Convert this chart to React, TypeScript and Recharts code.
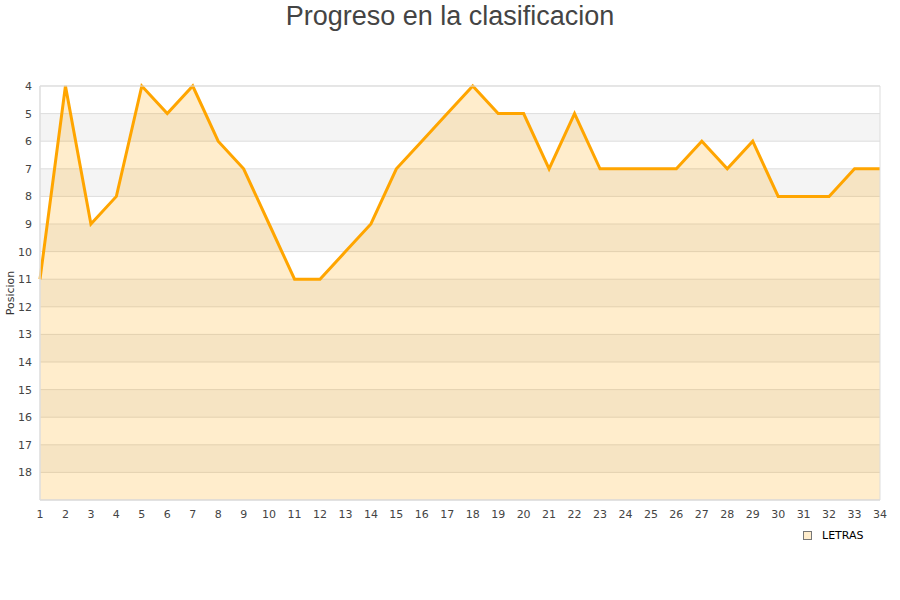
import React from 'react';
import { AreaChart, Area, XAxis, YAxis, CartesianGrid, ReferenceArea } from 'recharts';

const jornadas = [1, 2, 3, 4, 5, 6, 7, 8, 9, 10, 11, 12, 13, 14, 15, 16, 17, 18, 19, 20, 21, 22, 23, 24, 25, 26, 27, 28, 29, 30, 31, 32, 33, 34];
const posiciones = [11, 4, 9, 8, 4, 5, 4, 6, 7, 9, 11, 11, 10, 9, 7, 6, 5, 4, 5, 5, 7, 5, 7, 7, 7, 7, 6, 7, 6, 8, 8, 8, 7, 7];
const yTicks = [4, 5, 6, 7, 8, 9, 10, 11, 12, 13, 14, 15, 16, 17, 18];

const data = jornadas.map((j, i) => ({ jornada: j, pos: posiciones[i] }));

const tickStyle = { fontFamily: 'DejaVu Sans', fontSize: 11, fill: '#444' };

export default function App() {
  return (
    <div style={{ position: 'absolute', left: 0, top: 0, width: 900, height: 600, background: '#fff' }}>
      <div
        style={{
          position: 'absolute',
          left: 0,
          top: 0,
          width: 900,
          textAlign: 'center',
          fontFamily: 'Liberation Sans',
          fontSize: 27,
          lineHeight: '32px',
          color: '#444',
        }}
      >
        Progreso en la clasificacion
      </div>
      <AreaChart width={900} height={600} data={data} margin={{ top: 86, right: 20, left: 0, bottom: 70 }}>
        <CartesianGrid vertical={false} stroke="#dddddd" horizontalFill={['#ffffff', '#f4f4f4']} />
        <XAxis
          dataKey="jornada"
          type="number"
          domain={[1, 34]}
          ticks={jornadas}
          interval={0}
          height={30}
          tickLine={false}
          tickMargin={4}
          axisLine={{ stroke: '#dddddd' }}
          tick={tickStyle}
        />
        <YAxis
          type="number"
          domain={[4, 19]}
          reversed
          ticks={yTicks}
          interval={0}
          width={40}
          tickLine={false}
          axisLine={{ stroke: '#dddddd' }}
          tick={tickStyle}
          label={{
            value: 'Posicion',
            angle: -90,
            position: 'insideLeft',
            offset: 10,
            style: { fontFamily: 'DejaVu Sans', fontSize: 11, fill: '#333', textAnchor: 'middle' },
          }}
        />
        <Area
          type="linear"
          dataKey="pos"
          baseValue={19}
          stroke="#ffa500"
          strokeWidth={3}
          fill="#ffa500"
          fillOpacity={0.2}
          dot={false}
          activeDot={false}
          isAnimationActive={false}
        />
        <ReferenceArea x1={1} x2={34} y1={4} y2={19} fill="none" stroke="#dddddd" strokeOpacity={1} />
      </AreaChart>
      <div
        style={{
          position: 'absolute',
          left: 803,
          top: 529,
          display: 'flex',
          alignItems: 'center',
          fontFamily: 'DejaVu Sans',
          fontSize: 11,
          color: '#000',
        }}
      >
        <span
          style={{
            display: 'inline-block',
            width: 7,
            height: 7,
            background: '#ffedcc',
            border: '1px solid #777',
            marginRight: 10,
          }}
        />
        LETRAS
      </div>
    </div>
  );
}
